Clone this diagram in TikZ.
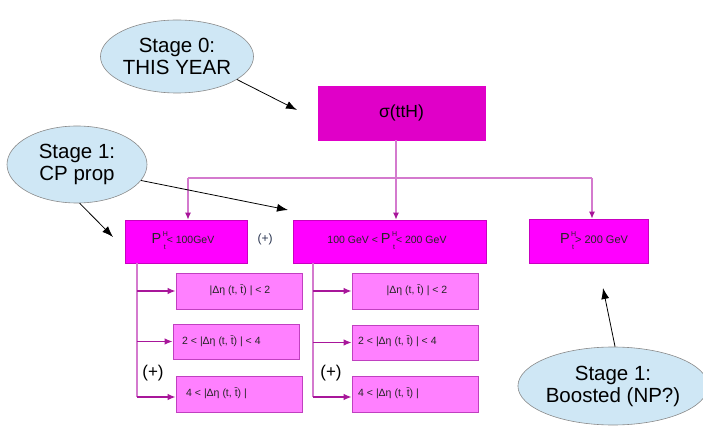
\documentclass[tikz,border=0pt]{standalone}
\usepackage{fontspec}
\setmainfont{Liberation Sans}
\usetikzlibrary{arrows.meta,shapes.geometric}
\definecolor{stagefill}{HTML}{CFE7F5}
\definecolor{stageline}{HTML}{8A8A8A}
\definecolor{topbox}{HTML}{E000C8}
\definecolor{ptbox}{HTML}{FF00FF}
\definecolor{ptline}{HTML}{C800C0}
\definecolor{subbox}{HTML}{FF80FF}
\definecolor{subline}{HTML}{C040C0}
\definecolor{treeline}{HTML}{D47ACE}
\definecolor{armline}{HTML}{A8169A}
\definecolor{plusblue}{HTML}{2A3550}
% transverse momentum symbol with stacked H / t indices
\newcommand{\ptH}{{\fontsize{14.5}{14}\selectfont P}\hspace{1.5pt}\rlap{\raisebox{7pt}{\fontsize{7}{7}\selectfont H}}\hspace{1pt}\raisebox{-6pt}{\fontsize{7}{7}\selectfont t}\hspace{1pt}}
\newcommand{\deta}{|Δη (t, \={t}) |}
\begin{document}
\begin{tikzpicture}[x=1pt,y=-1pt,
  stage/.style={ellipse,draw=stageline,line width=0.6pt,fill=stagefill,inner sep=0pt,
    align=center,font=\fontsize{20.5}{22}\selectfont,text=black},
  sigbox/.style={draw=topbox,fill=topbox,inner sep=0pt,font=\fontsize{17.5}{20}\selectfont},
  ptbox/.style={draw=ptline,line width=0.6pt,fill=ptbox,inner sep=0pt},
  subbox/.style={draw=subline,line width=0.8pt,fill=subbox,inner sep=0pt},
  subtext/.style={font=\fontsize{10.5}{12}\selectfont,text=black!85,inner sep=0pt},
  note/.style={-{Latex[length=11pt,width=8pt]},line width=0.8pt,black},
  tree/.style={treeline,line width=1.6pt},
  treearrow/.style={treeline,line width=1.2pt,-{Latex[length=7pt,width=6pt,color=armline]}},
  arm/.style={armline,line width=1.2pt,-{Latex[length=8pt,width=6.5pt]}}
]
\useasboundingbox (0,0) rectangle (703,427);

% stage annotations
\node[stage,minimum width=152,minimum height=73] (e0) at (177,56.5) {Stage 0:\\THIS YEAR};
\node[stage,minimum width=140,minimum height=77] (e1) at (77,164.5) {Stage 1:\\CP prop};
\node[stage,minimum width=176,minimum height=78] (e2) at (613,386) {Stage 1:\\Boosted (NP?)};

% top-level cross section
\node[sigbox,minimum width=167,minimum height=54] (sig) at (401.5,113) {σ(ttH)};

% transverse-momentum bins
\node[ptbox,minimum width=122,minimum height=43] (pa) at (186,241.5) {};
\node[subtext] (pat) at (183,241) {\ptH< 100GeV};
\node[ptbox,minimum width=193,minimum height=43] (pb) at (389.5,241.5) {};
\node[subtext] (pbt) at (387,241) {100 GeV < \ptH< 200 GeV};
\node[ptbox,minimum width=119,minimum height=44] (pc) at (588.5,241) {};
\node[subtext,font=\fontsize{11}{12}\selectfont] (pct) at (594,241) {\ptH> 200 GeV};

% rapidity-gap bins
\node[subbox,minimum width=126,minimum height=36] (la1) at (239,291) {};
\node[subbox,minimum width=126,minimum height=35] (la2) at (236,341.5) {};
\node[subbox,minimum width=126,minimum height=36] (la3) at (239,394) {};
\node[subbox,minimum width=126,minimum height=36] (ma1) at (415,291) {};
\node[subbox,minimum width=126,minimum height=35] (ma2) at (415,342.5) {};
\node[subbox,minimum width=126,minimum height=36] (ma3) at (415,394) {};

\node[subtext] (la1t) at (240,290) {\deta{} < 2};
\node[subtext,anchor=west] (la2t) at (182,341) {2 < \deta{} < 4};
\node[subtext,anchor=west] (la3t) at (186,393) {4 < \deta};
\node[subtext] (ma1t) at (417,290) {\deta{} < 2};
\node[subtext,anchor=west] (ma2t) at (358,341) {2 < \deta{} < 4};
\node[subtext,anchor=west] (ma3t) at (358,393) {4 < \deta};

% combination marks
\node[font=\fontsize{12}{12}\selectfont,text=plusblue] (plusa) at (265,239) {(+)};
\node[font=\fontsize{17}{18}\selectfont] (plusb) at (153,373) {(+)};
\node[font=\fontsize{17}{18}\selectfont] (plusc) at (331,373) {(+)};

% splitting tree
\coordinate (jl) at (188,178);
\coordinate (jm) at (396,178);
\coordinate (jr) at (592,178);
\draw[tree] (sig.south -| jm) -- (jm);
\draw[tree] (jl) -- (jr);
\draw[treearrow] (jl) -- (pa.north -| jl);
\draw[treearrow] (jm) -- (pb.north -| jm);
\draw[treearrow] (jr) -- (pc.north -| jr);

\coordinate (vl) at (137,263);
\coordinate (vm) at (313,263);
\coordinate (vlb) at (137,397);
\coordinate (vmb) at (313,397);
\draw[tree] (pa.south -| vl) -- (vlb);
\draw[tree] (pb.south -| vm) -- (vmb);
\draw[arm] (la1.west -| vl) -- (la1.west);
\draw[arm] (la2.west -| vl) -- (la2.west);
\draw[arm] (vlb) -- (vlb -| la3.west);
\draw[arm] (ma1.west -| vm) -- (ma1.west);
\draw[arm] (ma2.west -| vm) -- (ma2.west);
\draw[arm] (vmb) -- (vmb -| ma3.west);

% annotation arrows
\coordinate (t0) at (297,110);
\coordinate (t1a) at (113,237);
\coordinate (t1b) at (288,210);
\coordinate (t2) at (603,288);
\draw[note] (e0.-21) -- (t0);
\draw[note] (e1.-86) -- (t1a);
\draw[note] (e1.-14) -- (t1b);
\draw[note] (e2.87) -- (t2);
\end{tikzpicture}
\end{document}
